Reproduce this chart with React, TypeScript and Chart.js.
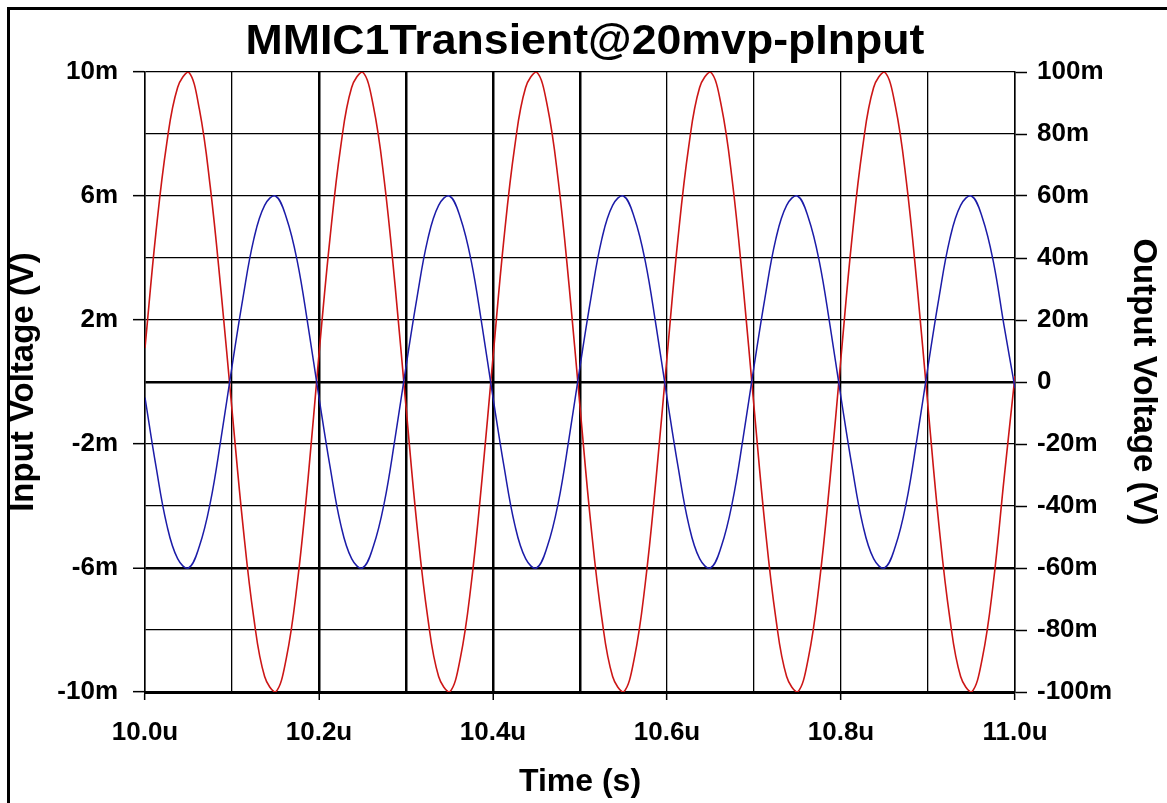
import React, { useEffect, useRef } from 'react';
import { Chart, registerables } from 'chart.js';

Chart.register(...registerables);

const TITLE = 'MMIC1Transient@20mvp-pInput';
const X_TITLE = 'Time (s)';
const Y_LEFT_TITLE = 'Input Voltage (V)';
const Y_RIGHT_TITLE = 'Output Voltage (V)';

// time in microseconds
const timeUs = [
  10.0, 10.0125, 10.025, 10.0375, 10.05, 10.0625, 10.075, 10.0875,
  10.1, 10.1125, 10.125, 10.1375, 10.15, 10.1625, 10.175, 10.1875,
  10.2, 10.2125, 10.225, 10.2375, 10.25, 10.2625, 10.275, 10.2875,
  10.3, 10.3125, 10.325, 10.3375, 10.35, 10.3625, 10.375, 10.3875,
  10.4, 10.4125, 10.425, 10.4375, 10.45, 10.4625, 10.475, 10.4875,
  10.5, 10.5125, 10.525, 10.5375, 10.55, 10.5625, 10.575, 10.5875,
  10.6, 10.6125, 10.625, 10.6375, 10.65, 10.6625, 10.675, 10.6875,
  10.7, 10.7125, 10.725, 10.7375, 10.75, 10.7625, 10.775, 10.7875,
  10.8, 10.8125, 10.825, 10.8375, 10.85, 10.8625, 10.875, 10.8875,
  10.9, 10.9125, 10.925, 10.9375, 10.95, 10.9625, 10.975, 10.9875,
  11.0,
];

// input voltage (mV), left axis, blue
const inputMv = [
  -0.5, -2.7, -4.6, -5.7, -6.0, -5.3, -3.9, -1.8,
  0.5, 2.7, 4.6, 5.7, 6.0, 5.3, 3.9, 1.8,
  -0.5, -2.7, -4.6, -5.7, -6.0, -5.3, -3.9, -1.8,
  0.5, 2.7, 4.6, 5.7, 6.0, 5.3, 3.9, 1.8,
  -0.5, -2.7, -4.6, -5.7, -6.0, -5.3, -3.9, -1.8,
  0.5, 2.7, 4.6, 5.7, 6.0, 5.3, 3.9, 1.8,
  -0.5, -2.7, -4.6, -5.7, -6.0, -5.3, -3.9, -1.8,
  0.5, 2.7, 4.6, 5.7, 6.0, 5.3, 3.9, 1.8,
  -0.5, -2.7, -4.6, -5.7, -6.0, -5.3, -3.9, -1.8,
  0.5, 2.7, 4.6, 5.7, 6.0, 5.3, 3.9, 1.8,
  -0.2,
];

// output voltage (mV), right axis, red
const outputMv = [
  11, 48, 77, 95, 100, 88, 63, 29,
  -9, -46, -76, -95, -100, -89, -65, -31,
  9, 46, 76, 95, 100, 89, 65, 31,
  -8, -46, -76, -95, -100, -89, -65, -31,
  8, 46, 76, 95, 100, 89, 65, 31,
  -8, -46, -76, -95, -100, -89, -65, -31,
  8, 46, 76, 95, 100, 89, 65, 31,
  -8, -46, -76, -95, -100, -89, -65, -31,
  8, 46, 76, 95, 100, 89, 65, 31,
  -8, -46, -76, -95, -100, -89, -65, -31,
  2,
];

const xTickValues = [10.0, 10.2, 10.4, 10.6, 10.8, 11.0];
const xTickLabels = ['10.0u', '10.2u', '10.4u', '10.6u', '10.8u', '11.0u'];
const leftTickValues = [10, 6, 2, -2, -6, -10];
const leftTickLabels = ['10m', '6m', '2m', '-2m', '-6m', '-10m'];
const rightTickValues = [100, 80, 60, 40, 20, 0, -20, -40, -60, -80, -100];
const rightTickLabels = ['100m', '80m', '60m', '40m', '20m', '0', '-20m', '-40m', '-60m', '-80m', '-100m'];
const xBoldGrid = [10.2, 10.3, 10.4, 10.5];
const yBoldGrid = [0, -6];

const FONT = '"Liberation Sans", Arial, sans-serif';
const RED = '#cc1616';
const BLUE = '#1c1ca8';

const findLabel = (v: number, values: number[], labels: string[]) => {
  const i = values.findIndex((x) => Math.abs(x - v) < 1e-6);
  return i >= 0 ? labels[i] : '';
};
const inList = (v: number, list: number[]) => list.some((x) => Math.abs(x - v) < 1e-6);

export default function App() {
  const ref = useRef<HTMLCanvasElement>(null);

  useEffect(() => {
    document.body.style.margin = '0';
    const canvas = ref.current;
    if (!canvas) return;
    Chart.defaults.color = '#000';

    const framePlugin = {
      id: 'frameAndTitle',
      afterDraw(chart: any) {
        const ctx = chart.ctx;
        ctx.save();
        ctx.fillStyle = '#000';
        ctx.fillRect(7, 7, 3, 803 - 7);
        ctx.fillRect(7, 7, 1167 - 7, 3);
        ctx.font = `bold 42px ${FONT}`;
        ctx.textAlign = 'center';
        ctx.textBaseline = 'middle';
        const w = ctx.measureText(TITLE).width;
        ctx.translate(585, 42);
        ctx.scale(679 / w, 1);
        ctx.fillText(TITLE, 0, 0);
        ctx.restore();
      },
    };

    const tickFont = { family: FONT, size: 26, weight: 'bold' };

    const chart = new Chart(canvas, {
      type: 'line',
      data: {
        datasets: [
          {
            label: 'Input',
            data: timeUs.map((t, i) => ({ x: t, y: inputMv[i] })),
            yAxisID: 'y',
            borderColor: BLUE,
            borderWidth: 1.5,
            pointRadius: 0,
            tension: 0.4,
            fill: false,
          },
          {
            label: 'Output',
            data: timeUs.map((t, i) => ({ x: t, y: outputMv[i] })),
            yAxisID: 'y2',
            borderColor: RED,
            borderWidth: 1.6,
            pointRadius: 0,
            tension: 0.4,
            fill: false,
          },
        ],
      },
      options: {
        responsive: false,
        animation: false,
        layout: { padding: { top: 72, left: 0, right: 0, bottom: 0 } },
        plugins: {
          legend: { display: false },
          title: { display: false },
          tooltip: { enabled: false },
        },
        scales: {
          x: {
            type: 'linear',
            min: 10,
            max: 11,
            afterFit: (s: any) => { s.height = 111; },
            ticks: {
              stepSize: 0.1,
              autoSkip: false,
              maxRotation: 0,
              padding: 17,
              font: tickFont,
              color: '#000',
              callback: (v: any) => findLabel(Number(v), xTickValues, xTickLabels),
            },
            grid: {
              color: '#000',
              lineWidth: (c: any) => (c.tick && inList(c.tick.value, xBoldGrid) ? 2.5 : 1.3),
              tickLength: 8,
              tickWidth: 1.5,
              tickColor: (c: any) =>
                c.tick && inList(c.tick.value, xTickValues) ? '#000' : 'rgba(0,0,0,0)',
            },
            border: { display: true, color: '#000', width: 3 },
            title: {
              display: true,
              text: X_TITLE,
              font: { family: FONT, size: 32, weight: 'bold', lineHeight: 1.2 },
              color: '#000',
              padding: { top: 0, bottom: 2 },
            },
          },
          y: {
            type: 'linear',
            position: 'left',
            min: -10,
            max: 10,
            afterFit: (s: any) => { s.width = 145; },
            ticks: {
              stepSize: 2,
              autoSkip: false,
              padding: 15,
              font: tickFont,
              color: '#000',
              callback: (v: any) => findLabel(Number(v), leftTickValues, leftTickLabels),
            },
            grid: {
              color: '#000',
              lineWidth: (c: any) => (c.tick && inList(c.tick.value, yBoldGrid) ? 2.5 : 1.3),
              tickLength: 12,
              tickWidth: 1.5,
              tickColor: (c: any) =>
                c.tick && inList(c.tick.value, leftTickValues) ? '#000' : 'rgba(0,0,0,0)',
            },
            border: { display: true, color: '#000', width: 1.5 },
            title: {
              display: true,
              text: Y_LEFT_TITLE,
              font: { family: FONT, size: 33, weight: 'bold', lineHeight: 1.2 },
              color: '#000',
              padding: { top: 4, bottom: 0 },
            },
          },
          y2: {
            type: 'linear',
            position: 'right',
            min: -100,
            max: 100,
            afterFit: (s: any) => { s.width = 152; },
            ticks: {
              stepSize: 20,
              autoSkip: false,
              padding: 10,
              font: tickFont,
              color: '#000',
              callback: (v: any) => findLabel(Number(v), rightTickValues, rightTickLabels),
            },
            grid: {
              drawOnChartArea: false,
              color: '#000',
              tickLength: 12,
              tickWidth: 1.5,
              tickColor: '#000',
            },
            border: { display: true, color: '#000', width: 1.5 },
            title: {
              display: true,
              text: Y_RIGHT_TITLE,
              font: { family: FONT, size: 33, weight: 'bold', lineHeight: 1.2 },
              color: '#000',
              padding: { top: 4, bottom: 0 },
            },
          },
        },
      },
      plugins: [framePlugin],
    } as any);

    return () => chart.destroy();
  }, []);

  return <canvas ref={ref} width={1167} height={803} style={{ display: 'block' }} />;
}
